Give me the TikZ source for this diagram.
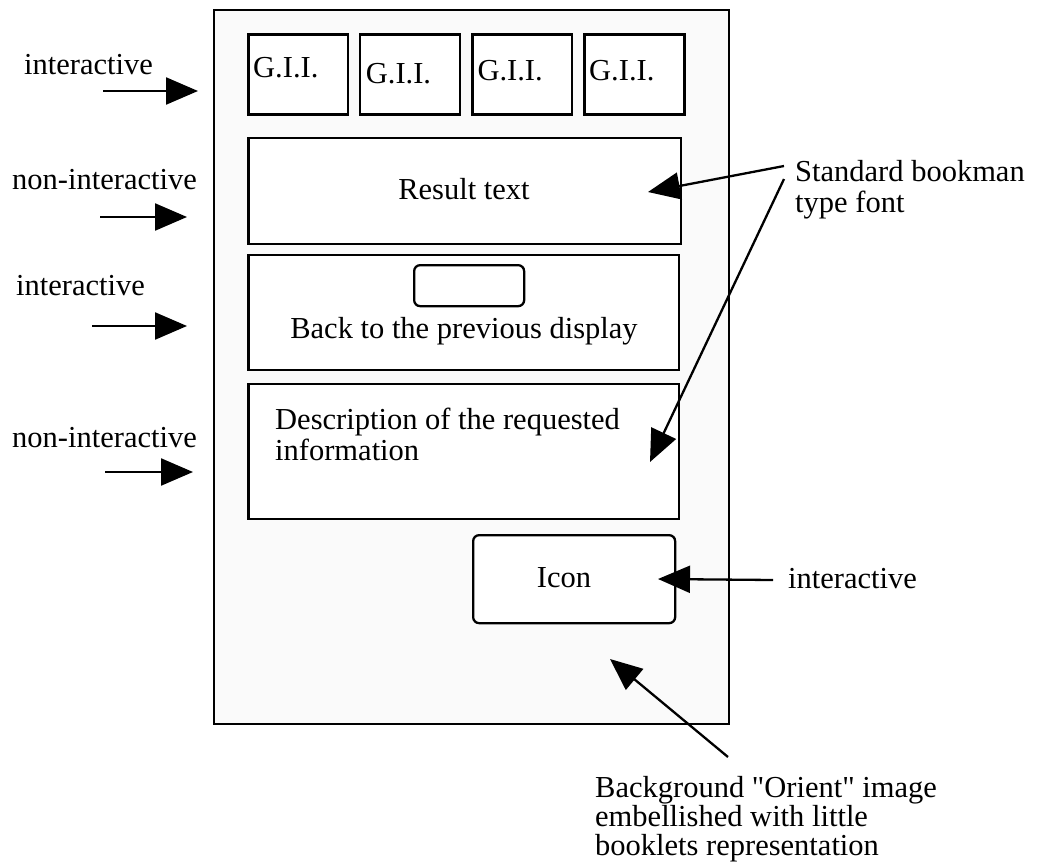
\documentclass[tikz,border=0pt]{standalone}
\usepackage{fontspec}
\setmainfont{Liberation Serif}[Ligatures=TeXOff]
\usetikzlibrary{arrows.meta}
\begin{document}
\begin{tikzpicture}[x=1pt,y=-1pt,
  lbl/.style={font=\fontsize{30.5}{31}\selectfont, inner sep=0pt, anchor=base west, align=left},
  clbl/.style={lbl, anchor=base, align=center},
  boxx/.style={draw, line width=2.3pt, fill=white, inner sep=0pt, anchor=north west},
  rbox/.style={boxx, rounded corners=6pt},
  arr/.style={line width=2.3pt, -{Triangle[length=32pt,width=27pt]}}]
\useasboundingbox (0,0) rectangle (1037,865);
% outer screen
\node[boxx, fill=black!2, minimum width=515pt, minimum height=714pt] (screen) at (212.7,9) {};
% G.I.I. boxes
\node[boxx, minimum width=99.4pt, minimum height=80pt] (g1) at (247.3,33.3) {};
\node[boxx, minimum width=100pt, minimum height=80pt] (g2) at (359,33.3) {};
\node[boxx, minimum width=99.4pt, minimum height=80pt] (g3) at (471.3,33.3) {};
\node[boxx, minimum width=100pt, minimum height=80pt] (g4) at (583.3,33.3) {};
\node[lbl] (g1t) at (253,77) {G.I.I.};
\node[lbl] (g2t) at (365.7,83) {G.I.I.};
\node[lbl] (g3t) at (477.3,80) {G.I.I.};
\node[lbl] (g4t) at (589,80) {G.I.I.};
% result text
\node[boxx, minimum width=432.7pt, minimum height=106pt] (result) at (247.3,137) {};
\node[clbl] (resultt) at (464,199) {Result text};
% back
\node[boxx, minimum width=430.7pt, minimum height=115pt] (back) at (247.3,254) {};
\node[rbox, minimum width=110pt, minimum height=41pt] (button) at (413,264) {};
\node[clbl] (backt) at (464,338) {Back to the previous display};
% description
\node[boxx, minimum width=430.7pt, minimum height=135pt] (desc) at (247.3,383) {};
\node[lbl] (desct) at (275,460) {Description of the requested\\information};
% icon
\node[rbox, minimum width=202pt, minimum height=88pt] (icon) at (472,534) {};
\node[clbl] (icont) at (564,587) {Icon};
% left labels
\node[lbl] (l1) at (24,74) {interactive};
\node[lbl] (l2) at (12,189) {non-interactive};
\node[lbl] (l3) at (16,295) {interactive};
\node[lbl] (l4) at (12,447) {non-interactive};
\coordinate (a1s) at (103,91);  \coordinate (a1e) at (198,91);
\coordinate (a2s) at (100,217); \coordinate (a2e) at (187,217);
\coordinate (a3s) at (92,326);  \coordinate (a3e) at (187,326);
\coordinate (a4s) at (105,472); \coordinate (a4e) at (193,472);
\draw[arr] (a1s) -- (a1e);
\draw[arr] (a2s) -- (a2e);
\draw[arr] (a3s) -- (a3e);
\draw[arr] (a4s) -- (a4e);
% right labels
\node[lbl] (font) at (795,212) {Standard bookman\\type font};
\coordinate (f1s) at (784,166); \coordinate (f1e) at (648,192);
\coordinate (f2s) at (784,179); \coordinate (f2e) at (650,462);
\draw[arr] (f1s) -- (f1e);
\draw[arr] (f2s) -- (f2e);
\node[lbl] (r5) at (788,588) {interactive};
\coordinate (i1s) at (773,580); \coordinate (i1e) at (658,579);
\draw[arr] (i1s) -- (i1e);
\node[lbl, font=\fontsize{30.5}{29}\selectfont] (bg) at (595,855) {Background "Orient" image\\embellished with little\\booklets representation};
\coordinate (b1s) at (728,757); \coordinate (b1e) at (610,659);
\draw[arr] (b1s) -- (b1e);
\end{tikzpicture}
\end{document}
